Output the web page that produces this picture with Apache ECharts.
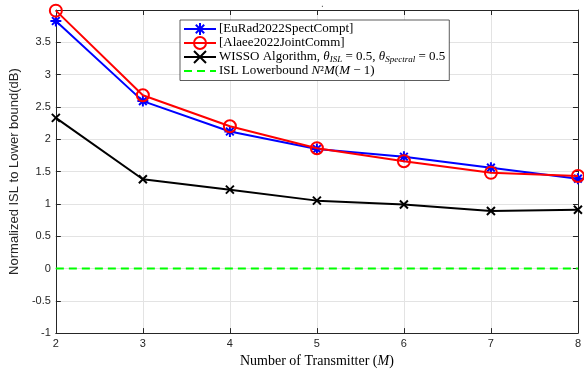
<!DOCTYPE html>
<html>
<head>
<meta charset="utf-8">
<script src="https://cdn.jsdelivr.net/npm/echarts@6/dist/echarts.min.js"></script>
<style>html,body{margin:0;padding:0;background:#fff}#c{width:584px;height:373px}</style>
</head>
<body>
<div id="c"></div>
<script>
var transmitters = [2, 3, 4, 5, 6, 7, 8];
var euRad = [3.83, 2.59, 2.12, 1.85, 1.73, 1.56, 1.39];
var alaee = [3.99, 2.68, 2.20, 1.86, 1.66, 1.48, 1.43];
var wisso = [2.33, 1.38, 1.22, 1.05, 0.99, 0.89, 0.91];
var lowerBound = [0, 0, 0, 0, 0, 0, 0];
var seriesNames = ['[EuRad2022SpectCompt]', '[Alaee2022JointComm]', 'WISSO Algorithm', 'ISL Lowerbound'];
var yTicks = [-1, -0.5, 0, 0.5, 1, 1.5, 2, 2.5, 3, 3.5];

function pairs(vals) { return transmitters.map(function (x, i) { return [x, vals[i]]; }); }

var legendRich = {
  t: { fontFamily: 'Liberation Serif', fontSize: 13, color: '#000', lineHeight: 15 },
  i: { fontFamily: 'Liberation Serif', fontSize: 13, fontStyle: 'italic', color: '#000', lineHeight: 15 },
  s: { fontFamily: 'Liberation Serif', fontSize: 9, fontStyle: 'italic', color: '#000', lineHeight: 9, verticalAlign: 'bottom' }
};
var legendText = {};
legendText[seriesNames[0]] = '{t|[EuRad2022SpectCompt]}';
legendText[seriesNames[1]] = '{t|[Alaee2022JointComm]}';
legendText[seriesNames[2]] = '{t|WISSO Algorithm, }{i|θ}{s|ISL}{t| = 0.5, }{i|θ}{s|Spectral}{t| = 0.5}';
legendText[seriesNames[3]] = '{t|ISL Lowerbound }{i|N}{t|²}{i|M}{t|(}{i|M}{t| − 1)}';

var star = 'path://M0,-10L0,10M-10,0L10,0M-7,-7L7,7M-7,7L7,-7';
var cross = 'path://M-10,-10L10,10M-10,10L10,-10';
var ring = 'path://M10,0A10,10 0 1 1 -10,0A10,10 0 1 1 10,0Z';
var axisColor = '#262626';

var chart = echarts.init(document.getElementById('c'), null, { renderer: 'canvas' });
chart.setOption({
  animation: false,
  backgroundColor: '#fff',
  title: { text: '.', left: 316, top: -6, textStyle: { fontSize: 10, color: '#555', fontWeight: 'normal' } },
  grid: { left: 47, right: 2, top: 10, bottom: 36, containLabel: false },
  legend: {
    orient: 'vertical', left: 180, top: 20,
    data: [
      { name: seriesNames[0] },
      { name: seriesNames[1] },
      { name: seriesNames[2] },
      { name: seriesNames[3], itemStyle: { color: 'transparent', borderColor: 'transparent', opacity: 0 } }
    ],
    backgroundColor: '#fff', borderColor: '#333', borderWidth: 0.8, borderRadius: 0,
    padding: [2, 4, 3, 3], itemGap: 0, itemWidth: 32, itemHeight: 15,
    formatter: function (n) { return legendText[n]; },
    textStyle: { rich: legendRich, padding: [0, 0, 0, -2] }
  },
  xAxis: [{
    type: 'value', min: 2, max: 8, interval: 1,
    name: 'Number of Transmitter ({i|M})', nameLocation: 'middle', nameGap: 17,
    nameTextStyle: { fontFamily: 'Liberation Serif', fontSize: 14, color: '#000',
      rich: { i: { fontFamily: 'Liberation Serif', fontStyle: 'italic', fontSize: 14, color: '#000' } } },
    axisLine: { show: true, onZero: false, lineStyle: { color: axisColor, width: 1 } },
    axisTick: { show: true, inside: true, length: 5, lineStyle: { color: axisColor } },
    axisLabel: { color: axisColor, fontFamily: 'Liberation Sans', fontSize: 11, margin: 5 },
    splitLine: { show: true, lineStyle: { color: '#e3e3e3', width: 1 } }
  }, {
    type: 'value', min: 2, max: 8, interval: 1, position: 'top',
    axisLine: { show: true, onZero: false, lineStyle: { color: axisColor, width: 1 } },
    axisTick: { show: true, inside: true, length: 5, lineStyle: { color: axisColor } },
    axisLabel: { show: false }, splitLine: { show: false }
  }],
  yAxis: [{
    type: 'value', min: -1, max: 4, interval: 0.5,
    name: 'Normalized ISL to Lower bound(dB)', nameLocation: 'middle', nameGap: 28,
    nameTextStyle: { fontFamily: 'Liberation Sans', fontSize: 13, color: '#262626' },
    axisLine: { show: true, onZero: false, lineStyle: { color: axisColor, width: 1 } },
    axisTick: { show: true, inside: true, length: 5, lineStyle: { color: axisColor } },
    axisLabel: { color: axisColor, fontFamily: 'Liberation Sans', fontSize: 11, margin: 5, showMaxLabel: false,
      formatter: function (v) { return yTicks.indexOf(v) >= 0 ? String(v) : ''; } },
    splitLine: { show: true, lineStyle: { color: '#e3e3e3', width: 1 } }
  }, {
    type: 'value', min: -1, max: 4, interval: 0.5, position: 'right',
    axisLine: { show: true, onZero: false, lineStyle: { color: axisColor, width: 1 } },
    axisTick: { show: true, inside: true, length: 5, lineStyle: { color: axisColor } },
    axisLabel: { show: false }, splitLine: { show: false }
  }],
  series: [{
    name: seriesNames[0], type: 'line', data: pairs(euRad), z: 3,
    symbol: star, symbolSize: 11,
    lineStyle: { color: '#0000ff', width: 2 },
    itemStyle: { color: '#0000ff', borderColor: '#0000ff', borderWidth: 2 }
  }, {
    name: seriesNames[1], type: 'line', data: pairs(alaee), z: 4,
    symbol: ring, symbolSize: 12,
    lineStyle: { color: '#ff0000', width: 2 },
    itemStyle: { color: 'transparent', borderColor: '#ff0000', borderWidth: 2 }
  }, {
    name: seriesNames[2], type: 'line', data: pairs(wisso), z: 3,
    symbol: cross, symbolSize: 8,
    lineStyle: { color: '#000', width: 2 },
    itemStyle: { color: '#000', borderColor: '#000', borderWidth: 2 }
  }, {
    name: seriesNames[3], type: 'line', data: pairs(lowerBound), z: 2,
    symbol: 'none',
    lineStyle: { color: '#00ff00', width: 2, type: [8, 5] },
    itemStyle: { color: '#00ff00' }
  }]
});
</script>
</body>
</html>
